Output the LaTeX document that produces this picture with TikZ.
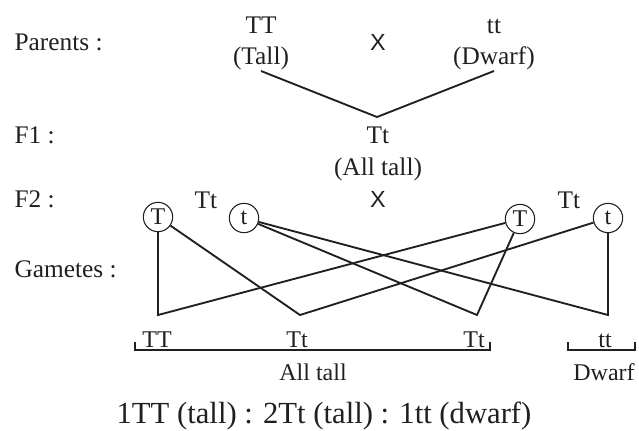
\documentclass[tikz,border=0pt]{standalone}
\usepackage{fontspec}
\setmainfont{Liberation Serif}
\setsansfont{Liberation Sans}
\usetikzlibrary{positioning}
\definecolor{ink}{RGB}{35,31,32}

\begin{document}
\begin{tikzpicture}[x=0.75pt,y=-0.75pt,
  every node/.style={text=ink,inner sep=1pt,font=\fontsize{19}{22}\selectfont},
  txt/.style={anchor=base},
  small/.style={anchor=base,font=\fontsize{18}{21}\selectfont},
  gam/.style={circle,draw=ink,line width=0.8pt,inner sep=0pt,minimum size=22pt,
    font=\fontsize{18}{20}\selectfont},
  cross/.style={anchor=base,font=\sffamily\fontsize{17.5}{20}\selectfont},
  link/.style={draw=ink,line width=1.4pt}]
  \useasboundingbox (0,0) rectangle (639,430);
  % row titles
  \node[anchor=base west] (parents) at (13,50) {Parents :};
  \node[anchor=base west] (fone) at (13,143) {F1 :};
  \node[anchor=base west] (ftwo) at (13,207) {F2 :};
  \node[anchor=base west] (gametes) at (13,277) {Gametes :};
  % parents
  \node[txt] (TT) at (261,33) {TT};
  \node[txt] (Tall) at (261,64) {(Tall)};
  \node[cross] (x1) at (378,50) {X};
  \node[txt] (tt) at (494,33) {tt};
  \node[txt] (Dwarf) at (494,64) {(Dwarf)};
  \coordinate (meet) at (377,117);
  \draw[link] (Tall.south) -- (meet) -- (Dwarf.south);
  % F1
  \node[txt] (Tt) at (378,143) {Tt};
  \node[txt] (alltall) at (378,175) {(All tall)};
  % F2
  \node[cross] (x2) at (378,207) {X};
  \node[txt] (TtL) at (206,208) {Tt};
  \node[txt] (TtR) at (569,208) {Tt};
  \node[gam] (T1) at (158,217) {T};
  \node[gam] (t1) at (244,218) {t};
  \node[gam] (T2) at (520,219) {T};
  \node[gam] (t2) at (608,218) {t};
  % gametes combine
  \coordinate (g1) at (158,315);
  \coordinate (g2) at (300,315);
  \coordinate (g3) at (477,315);
  \coordinate (g4) at (608,315);
  \draw[link] (T1) -- (g1) -- (T2);
  \draw[link] (T1) -- (g2) -- (t2);
  \draw[link] (t1) -- (g3) -- (T2);
  \draw[link] (t1) -- (g4) -- (t2);
  % offspring
  \node[small] (oTT) at (157,347) {TT};
  \node[small] (oTt1) at (297,347) {Tt};
  \node[small] (oTt2) at (474,347) {Tt};
  \node[small] (ott) at (605,347) {tt};
  \draw[ink,line width=1.1pt] (135,342) -- (135,350) -- (490,350) -- (490,342);
  \draw[ink,line width=1.1pt] (568,342) -- (568,350) -- (635,350) -- (635,342);
  \node[small] (talls) at (313,380) {All tall};
  \node[small] (dwarfs) at (604,380) {Dwarf};
  \node[txt,font=\fontsize{23}{26}\selectfont] (ratio) at (324,423)
    {1TT (tall) : 2Tt (tall) : 1tt (dwarf)};
\end{tikzpicture}
\end{document}
